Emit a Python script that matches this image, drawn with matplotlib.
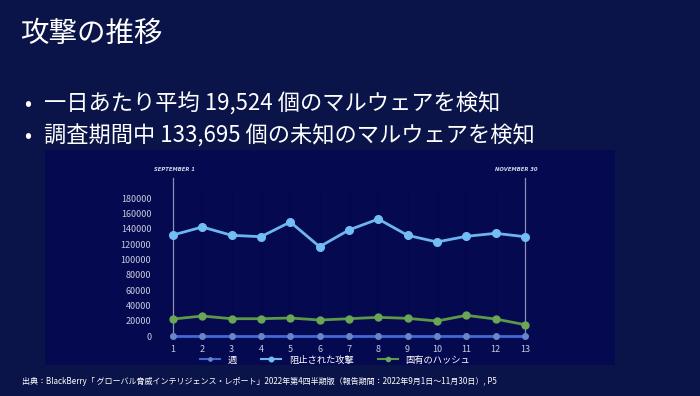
import numpy as np
import matplotlib.pyplot as plt

plt.rcParams['font.family'] = ['Noto Sans CJK JP', 'DejaVu Sans']

# weekly data
weeks = [1, 2, 3, 4, 5, 6, 7, 8, 9, 10, 11, 12, 13]
blocked = [132000, 142500, 131600, 129800, 149000, 116700, 138600,
           152900, 131600, 122900, 130300, 134200, 129800]
hashes = [22200, 26100, 22600, 22600, 23500, 20900, 22600,
          24400, 23100, 19600, 27000, 22200, 14800]
yticks = [0, 20000, 40000, 60000, 80000, 100000, 120000, 140000, 160000, 180000]
labels = ['週', '阻止された攻撃', '固有のハッシュ']

title = '攻撃の推移'
bullets = ['一日あたり平均 19,524 個のマルウェアを検知',
           '調査期間中 133,695 個の未知のマルウェアを検知']
source = ('出典：BlackBerry「 グローバル脅威インテリジェンス・レポート」2022年第4四半期版'
          '（報告期間：2022年9月1日～11月30日）, P5')

BG = '#0b1449'
PANEL = '#05094f'

fig = plt.figure(figsize=(7, 3.96), dpi=100)
fig.patch.set_facecolor(BG)

# darker chart panel behind the plot
panel = fig.add_axes([45 / 700, 1 - 365 / 396, 570 / 700, 215 / 396], zorder=-1)
panel.set_facecolor(PANEL)
panel.set_xticks([])
panel.set_yticks([])
for s in panel.spines.values():
    s.set_visible(False)

fig.text(20 / 700, 1 - 34 / 396, title, color='white', fontsize=20.5, va='center')
for i, b in enumerate(bullets):
    y = 1 - (104 + i * 32) / 396
    fig.text(28 / 700, y, '•', color='white', fontsize=15, va='center', ha='center')
    fig.text(44 / 700, y, b, color='white', fontsize=16, va='center')
fig.text(22 / 700, 1 - 381 / 396, source, color='white', fontsize=5.8, va='center')

ax = fig.add_axes([158.3 / 700, 1 - 343.65 / 396, 381.3 / 700, 153 / 396])
ax.set_facecolor('none')
ax.set_xlim(0.5, 13.5)
ax.set_ylim(-10000, 190000)

# faint week guides
for w in weeks:
    ax.axvline(w, color='#04084b', lw=0.8, zorder=0)

ax.plot(weeks, [0] * len(weeks), color='#3d6ad6', lw=2, marker='o', ms=4,
        mfc='#6a86c8', mec='#6a86c8', label=labels[0], zorder=3)
ax.plot(weeks, blocked, color='#6cb6ef', lw=2, marker='o', ms=5.5,
        mfc='#72bdf5', mec='#72bdf5', label=labels[1], zorder=3)
ax.plot(weeks, hashes, color='#5d9848', lw=2, marker='o', ms=5,
        mfc='#6aa655', mec='#6aa655', label=labels[2], zorder=3)

# period markers
ax.plot([1, 1], [0, 207000], color='#8a90b8', lw=0.9, clip_on=False, zorder=2)
ax.plot([13, 13], [0, 207000], color='#8a90b8', lw=0.9, clip_on=False, zorder=2)
ax.text(1.05, 217000, 'SEPTEMBER 1', color='#d0d4e8', fontsize=3.8,
        fontweight='bold', style='italic', ha='center', va='center', family='DejaVu Sans')
ax.text(12.7, 217000, 'NOVEMBER 30', color='#d0d4e8', fontsize=3.8,
        fontweight='bold', style='italic', ha='center', va='center', family='DejaVu Sans')

ax.set_xticks(weeks)
ax.set_yticks(yticks)
ax.set_yticklabels([str(t) for t in yticks])
ax.tick_params(colors='#c8cce0', labelsize=6.5, length=0)
ax.tick_params(axis='y', pad=5)
ax.tick_params(axis='x', pad=1)
for s in ax.spines.values():
    s.set_visible(False)

leg = fig.legend(loc='center', bbox_to_anchor=(335 / 700, 1 - 360 / 396), ncol=3,
                 frameon=False, fontsize=6.7, labelcolor='white', handlelength=2.2,
                 handletextpad=0.8, columnspacing=2.6, markerscale=0.6)
for h in leg.get_lines():
    h.set_linewidth(1.5)

fig.savefig('out.png', dpi=100, facecolor=BG)
